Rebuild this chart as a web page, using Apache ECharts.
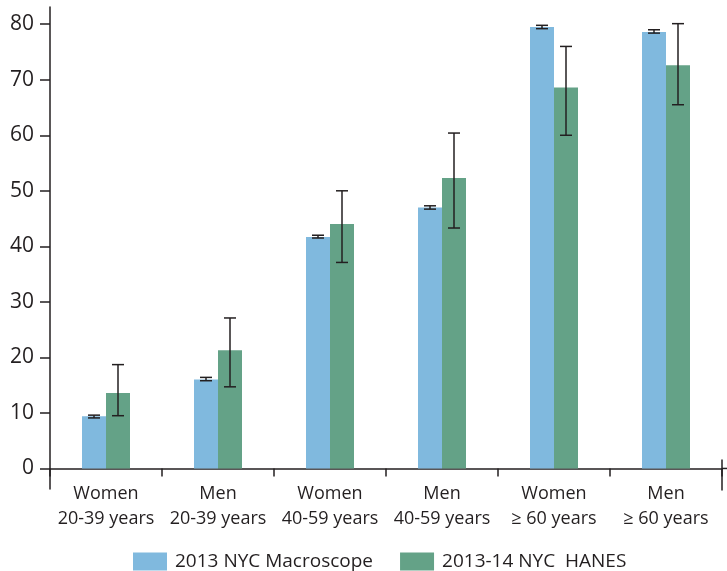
<!DOCTYPE html>
<html>
<head>
<meta charset="utf-8">
<script src="https://cdn.jsdelivr.net/npm/echarts@6/dist/echarts.min.js"></script>
<style>
  html, body { margin: 0; padding: 0; background: #ffffff; }
  #chart { width: 727px; height: 571px; }
</style>
</head>
<body>
<div id="chart"></div>
<script>
const categories = [
  'Women\n20-39 years', 'Men\n20-39 years',
  'Women\n40-59 years', 'Men\n40-59 years',
  'Women\n\u2265 60 years', 'Men\n\u2265 60 years'
];
const seriesNames = ['2013 NYC Macroscope', '2013-14 NYC  HANES'];
const macroscope     = [9.4, 16.0, 41.7, 47.0, 79.5, 78.6];
const macroscopeLow  = [9.1, 15.8, 41.5, 46.7, 79.2, 78.4];
const macroscopeHigh = [9.6, 16.4, 42.0, 47.3, 79.8, 79.0];
const hanes     = [13.6, 21.3, 44.0, 52.3, 68.6, 72.6];
const hanesLow  = [9.5, 14.7, 37.1, 43.3, 60.0, 65.5];
const hanesHigh = [18.7, 27.1, 50.0, 60.4, 76.0, 80.1];
const yTicks = [0, 10, 20, 30, 40, 50, 60, 70, 80];

const TEXT = '#231f20';
const BLUE = '#80b9de';
const GREEN = '#64a287';
const BAR_W = 24;

function errData(low, high) {
  return low.map((l, i) => [i, l, high[i]]);
}

function errRender(offset) {
  return function (params, api) {
    const i = api.value(0);
    const top = api.coord([i, api.value(2)]);
    const bot = api.coord([i, api.value(1)]);
    const x = top[0] + offset;
    const hw = 6;
    const style = { stroke: TEXT, lineWidth: 1.5, fill: null };
    return {
      type: 'group',
      children: [
        { type: 'line', shape: { x1: x, y1: top[1], x2: x, y2: bot[1] }, style },
        { type: 'line', shape: { x1: x - hw, y1: top[1], x2: x + hw, y2: top[1] }, style },
        { type: 'line', shape: { x1: x - hw, y1: bot[1], x2: x + hw, y2: bot[1] }, style }
      ]
    };
  };
}

const chart = echarts.init(document.getElementById('chart'), null, { renderer: 'canvas' });
const option = {
  animation: false,
  backgroundColor: '#ffffff',
  textStyle: { fontFamily: 'Open Sans', color: TEXT },
  grid: { left: 50, right: 5, top: 7, bottom: 82, containLabel: false },
  legend: {
    data: seriesNames,
    left: 133,
    top: 552,
    padding: 0,
    itemWidth: 34,
    itemHeight: 18,
    itemGap: 27,
    icon: 'rect',
    textStyle: { fontFamily: 'Open Sans', fontSize: 19, color: TEXT, padding: [0, 0, 0, 3] }
  },
  xAxis: {
    type: 'category',
    data: categories,
    boundaryGap: true,
    axisLine: { onZero: true, lineStyle: { color: TEXT, width: 1.5 } },
    axisTick: { show: true, interval: 0, length: 8, lineStyle: { color: TEXT, width: 1.5 } },
    axisLabel: { interval: 0, fontFamily: 'Open Sans', fontSize: 18, lineHeight: 25, color: TEXT, margin: -8 },
    splitLine: { show: false }
  },
  yAxis: {
    type: 'value',
    min: -3.7,
    max: 83.1,
    axisLine: { show: true, lineStyle: { color: TEXT, width: 1.5 } },
    axisTick: { show: true, length: 10, customValues: yTicks, lineStyle: { color: TEXT, width: 1.5 } },
    axisLabel: { fontFamily: 'Open Sans', fontSize: 21, color: TEXT, margin: 16, customValues: yTicks },
    splitLine: { show: false }
  },
  series: [
    {
      name: seriesNames[0], type: 'bar', data: macroscope,
      barWidth: BAR_W, barGap: '0%', itemStyle: { color: BLUE }
    },
    {
      name: seriesNames[1], type: 'bar', data: hanes,
      barWidth: BAR_W, barGap: '0%', itemStyle: { color: GREEN }
    },
    {
      type: 'custom', name: 'macroErr', data: errData(macroscopeLow, macroscopeHigh),
      renderItem: errRender(-BAR_W / 2), encode: { x: 0, y: [1, 2] }, z: 5, silent: true
    },
    {
      type: 'custom', name: 'hanesErr', data: errData(hanesLow, hanesHigh),
      renderItem: errRender(BAR_W / 2), encode: { x: 0, y: [1, 2] }, z: 5, silent: true
    }
  ]
};
chart.setOption(option);

// end-of-axis vertical mark at the right end of the x axis
const y0 = chart.convertToPixel({ yAxisIndex: 0 }, 0);
const xEnd = 727 - 5;
chart.setOption({
  graphic: [
    { type: 'line', shape: { x1: xEnd, y1: y0 - 9, x2: xEnd, y2: y0 + 22 }, style: { stroke: TEXT, lineWidth: 1.5 } },
    { type: 'line', shape: { x1: xEnd, y1: y0, x2: 727, y2: y0 }, style: { stroke: TEXT, lineWidth: 1.5 } }
  ]
});
</script>
</body>
</html>
